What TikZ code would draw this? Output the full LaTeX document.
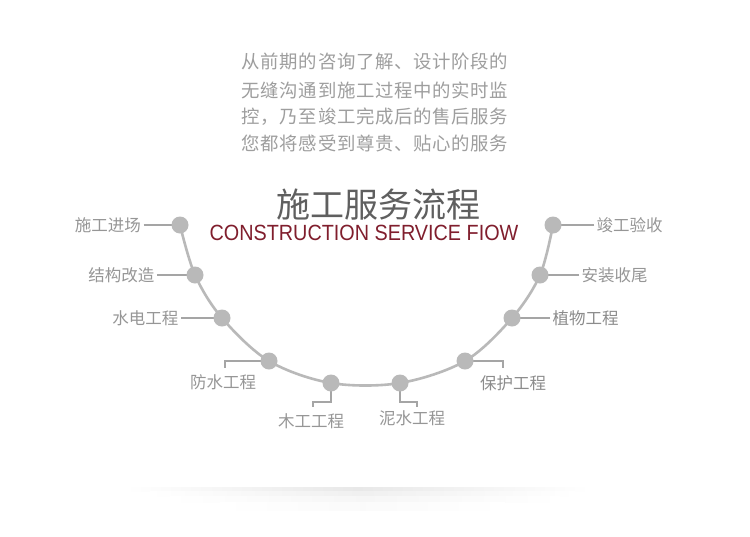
\documentclass[tikz,border=0pt]{standalone}
\usepackage{fontspec}
\setmainfont{Liberation Sans}
\newfontfamily\cjk{Noto Sans CJK SC}
\definecolor{curvec}{RGB}{185,185,185}
\definecolor{labc}{RGB}{150,150,150}
\definecolor{labd}{RGB}{140,140,140}
\definecolor{titc}{RGB}{95,95,95}
\definecolor{redc}{RGB}{128,30,45}
\definecolor{parc}{RGB}{158,158,158}
\definecolor{leadc}{RGB}{165,165,165}
\def\spreadtxt#1{\ifx#1\relax\else#1\kern0.7pt\expandafter\spreadtxt\fi}
\begin{document}
\begin{tikzpicture}[x=1pt,y=-1pt,
  dot/.style={circle,fill=curvec,minimum size=17pt,inner sep=0pt},
  curveline/.style={draw=curvec,line width=2.6pt},
  leader/.style={draw=leadc,line width=1.3pt},
  lab/.style={text=labc,font=\cjk\fontsize{16.5}{18}\selectfont,inner xsep=2.5pt,inner ysep=0pt},
  labb/.style={lab,text=labd},
  para/.style={text=parc,font=\cjk\fontsize{18.4}{22}\selectfont,inner sep=0pt},
]
\useasboundingbox (0,0) rectangle (750,536);
\fill[white] (0,0) rectangle (750,536);
% shadow
\shade[left color=white,right color=white,middle color=black!9] (125,487) rectangle (590,491);
\shade[left color=white,right color=white,middle color=black!6] (150,491) rectangle (575,496);
\shade[left color=white,right color=white,middle color=black!3.5] (170,496) rectangle (560,502);
\shade[left color=white,right color=white,middle color=black!1.8] (220,502) rectangle (505,510);
% paragraph
\node[para] (p1) at (375.4,62) {\spreadtxt 从前期的咨询了解、设计阶段的\relax};
\node[para] (p2) at (375.4,90) {\spreadtxt 无缝沟通到施工过程中的实时监\relax};
\node[para] (p3) at (375.4,117) {\spreadtxt 控，乃至竣工完成后的售后服务\relax};
\node[para] (p4) at (375.4,143) {\spreadtxt 您都将感受到尊贵、贴心的服务\relax};
% titles
\node[text=titc,font=\cjk\fontsize{34}{36}\selectfont,inner sep=0pt] (title) at (378.5,205) {施工服务流程};
\node[text=redc,font=\fontsize{22}{24}\selectfont,inner sep=0pt,xscale=0.9] (sub) at (364,233) {CONSTRUCTION SERVICE FIOW};
% curve
\draw[curveline] plot[smooth,tension=0.55] coordinates {(180,225) (195,275) (222,318) (269,361) (331,383) (400,383) (465,361) (512,318) (540,275) (553,225)};
% labels
\node[lab,anchor=east] (l1) at (143.5,225) {施工进场};
\node[lab,anchor=east] (l2) at (157,275) {结构改造};
\node[lab,anchor=east] (l3) at (181,318) {水电工程};
\node[lab] (l4) at (223,382) {防水工程};
\node[lab] (l5) at (311,421) {木工工程};
\node[lab] (l6) at (412,418) {泥水工程};
\node[labb] (l7) at (513,383) {保护工程};
\node[labb,anchor=west] (l8) at (550,318) {植物工程};
\node[lab,anchor=west] (l9) at (579,275) {安装收尾};
\node[lab,anchor=west] (l10) at (594,225) {竣工验收};
% elbow coordinates
\coordinate (c4a) at (225,361);
\coordinate (c4) at (225,368);
\coordinate (c5a) at (313,402);
\coordinate (c5) at (313,407);
\coordinate (c6a) at (417,402);
\coordinate (c6) at (417,407);
\coordinate (c7a) at (503,361);
\coordinate (c7) at (503,368);
% dot positions
\path (180,225) coordinate (P1) (195,275) coordinate (P2) (222,318) coordinate (P3)
      (269,361) coordinate (P4) (331,383) coordinate (P5) (400,383) coordinate (P6)
      (465,361) coordinate (P7) (512,318) coordinate (P8) (540,275) coordinate (P9)
      (553,225) coordinate (P10);
% leaders
\draw[leader] (l1.east) -- (P1);
\draw[leader] (l2.east) -- (P2);
\draw[leader] (l3.east) -- (P3);
\draw[leader] (P4) -- (c4a) -- (c4);
\draw[leader] (P5) |- (c5a) -- (c5);
\draw[leader] (P6) |- (c6a) -- (c6);
\draw[leader] (P7) -- (c7a) -- (c7);
\draw[leader] (l8.west) -- (P8);
\draw[leader] (l9.west) -- (P9);
\draw[leader] (l10.west) -- (P10);
% dots
\foreach \i in {1,...,10} {\node[dot] (d\i) at (P\i) {};}
\end{tikzpicture}
\end{document}
